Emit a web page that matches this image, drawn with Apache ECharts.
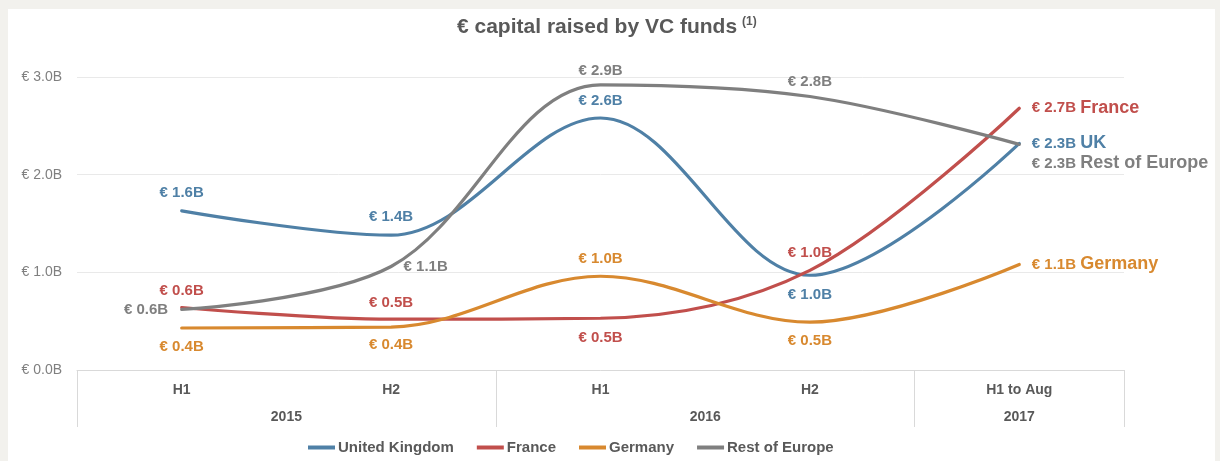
<!DOCTYPE html>
<html>
<head>
<meta charset="utf-8">
<script src="https://cdn.jsdelivr.net/npm/echarts@6/dist/echarts.min.js"></script>
<style>
    html, body { margin: 0; padding: 0; background: #f2f1ed; }
    #panel { position: absolute; left: 8px; top: 9px; width: 1207px; height: 452px; background: #fff; }
    #chart { width: 1207px; height: 452px; }
</style>
</head>
<body>
<div id="panel"><div id="chart"></div></div>
<script>
// data
const halves = ["H1", "H2", "H1", "H2", "H1 to Aug"];
const yearNames = ["2015", "2016", "2017"];
const yearSpans = [2, 2, 1];

const seriesNames = ["United Kingdom", "France", "Germany", "Rest of Europe"];
const endNames = ["UK", "France", "Germany", "Rest of Europe"];
const ukValues = [1.63, 1.38, 2.58, 0.97, 2.32];
const franceValues = [0.64, 0.52, 0.53, 1.02, 2.68];
const germanyValues = [0.43, 0.44, 0.96, 0.49, 1.08];
const restValues = [0.62, 1.06, 2.92, 2.80, 2.31];

const yMin = 0, yMax = 3, yStep = 1;

// label placement per point
const labelPlaces = [
    [["top", 10], ["top", 10], ["top", 9], ["bottom", 12], ["right", 12]],
    [["top", 9], ["top", 8], ["bottom", 12], ["top", 10], ["right", 12]],
    [["bottom", 11], ["bottom", 10], ["top", 9], ["bottom", 11], ["right", 12]],
    [["left", 13], ["right", 12], ["top", 6], ["top", 7], ["right", 12]]
];
const colors = ["#4f80a6", "#c14f4c", "#d8892f", "#7f7f7f"];

// year axis: half-slots so the year names sit between their categories
let yearSlots = new Array(halves.length * 2 + 1).fill("");
let yearBounds = new Set([0]);
{
    let pos = 0;
    yearNames.forEach((y, i) => {
        yearSlots[pos + yearSpans[i]] = y;
        pos += yearSpans[i] * 2;
        yearBounds.add(pos);
    });
}

function fmt(v) {
    return "€ " + v.toFixed(1) + "B";
}

function makeSeries(idx, values) {
    const last = values.length - 1;
    return {
        name: seriesNames[idx],
        type: "line",
        smooth: 0.35,
        clip: false,
        symbol: "circle",
        symbolSize: 1,
        lineStyle: { width: 3.2, color: colors[idx], cap: "round" },
        itemStyle: { color: colors[idx] },
        emphasis: { disabled: true },
        data: values.map((v, i) => {
            let place = labelPlaces[idx][i];
            let label = {
                show: true,
                position: place[0],
                distance: place[1],
                color: colors[idx],
                fontSize: 15,
                fontWeight: "bold",
                formatter: p => fmt(p.value)
            };
            if (i === last) {
                label.formatter = p => "{v|" + fmt(p.value) + "} {n|" + endNames[idx] + "}";
                label.rich = {
                    v: { fontSize: 15, fontWeight: "bold", color: colors[idx] },
                    n: { fontSize: 18, fontWeight: "bold", color: colors[idx] }
                };
                if (idx === 3) label.offset = [0, 19];
            }
            return { value: v, label: label };
        })
    };
}

const chart = echarts.init(document.getElementById("chart"));
chart.setOption({
    animation: false,
    textStyle: { fontFamily: "Liberation Sans, Arial, sans-serif" },
    title: {
        left: 444,
        top: 2,
        text: "{t|€ capital raised by VC funds} {s|(1)}",
        textStyle: {
            rich: {
                t: { fontSize: 21, fontWeight: "bold", color: "#595959" },
                s: { fontSize: 12, fontWeight: "bold", color: "#595959", verticalAlign: "top", padding: [0, 0, 10, 0] }
            }
        }
    },
    legend: {
        left: 295,
        top: 426,
        icon: "rect",
        itemWidth: 27,
        itemHeight: 4,
        itemGap: 23,
        textStyle: { fontSize: 15, fontWeight: "bold", color: "#595959", padding: [0, 0, 0, -2] },
        data: seriesNames
    },
    grid: { left: 69, right: 91, top: 68, bottom: 91 },
    xAxis: [
        {
            type: "category",
            data: halves,
            position: "bottom",
            axisLine: { lineStyle: { color: "#d9d9d9", width: 1 } },
            axisTick: { show: false },
            axisLabel: { margin: 13, fontSize: 14, fontWeight: "bold", color: "#595959" }
        },
        {
            type: "category",
            data: yearSlots,
            boundaryGap: false,
            position: "bottom",
            axisLine: { show: false },
            axisTick: {
                show: true,
                length: 57,
                interval: i => yearBounds.has(i),
                lineStyle: { color: "#d9d9d9" }
            },
            axisLabel: { interval: 0, margin: 40, fontSize: 14, fontWeight: "bold", color: "#595959" }
        }
    ],
    yAxis: {
        type: "value",
        min: yMin,
        max: yMax,
        interval: yStep,
        axisLine: { show: false },
        axisTick: { show: false },
        splitLine: { lineStyle: { color: "#e9e9e9", width: 1 } },
        axisLabel: { margin: 15, fontSize: 14, color: "#7f7f7f", formatter: v => "€ " + v.toFixed(1) + "B" }
    },
    series: [
        makeSeries(0, ukValues),
        makeSeries(1, franceValues),
        makeSeries(2, germanyValues),
        makeSeries(3, restValues)
    ]
});
</script>
</body>
</html>
